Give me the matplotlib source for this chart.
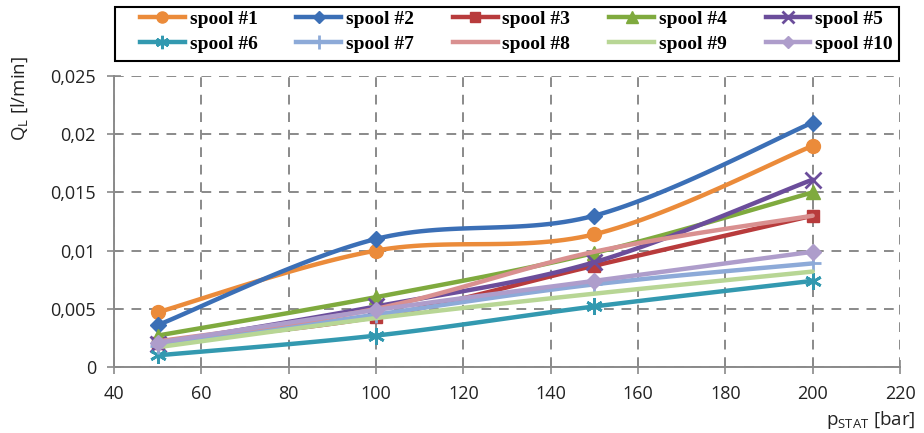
import numpy as np
import matplotlib
matplotlib.use("Agg")
import matplotlib.pyplot as plt
from matplotlib.ticker import FuncFormatter, MultipleLocator
from matplotlib.patches import Rectangle

# ---- data ----
pressure = [50, 100, 150, 200]
labels = ["spool #1", "spool #2", "spool #3", "spool #4", "spool #5",
          "spool #6", "spool #7", "spool #8", "spool #9", "spool #10"]
spool1 = [0.0047, 0.0100, 0.0114, 0.0190]
spool2 = [0.0036, 0.0110, 0.0130, 0.0210]
spool3 = [0.0021, 0.0043, 0.0087, 0.0130]
spool4 = [0.0027, 0.0060, 0.0098, 0.0150]
spool5 = [0.0020, 0.0052, 0.0090, 0.0161]
spool6 = [0.0010, 0.0027, 0.0052, 0.0074]
spool7 = [0.0018, 0.0045, 0.0071, 0.0089]
spool8 = [0.0022, 0.0050, 0.0099, 0.0130]
spool9 = [0.0017, 0.0042, 0.0063, 0.0082]
spool10 = [0.0021, 0.0049, 0.0074, 0.0099]
series = [spool1, spool2, spool3, spool4, spool5,
          spool6, spool7, spool8, spool9, spool10]

colors = ["#EB8B3A", "#3B6FB6", "#B83B3C", "#7FAA3E", "#6B4D9B",
          "#3399B0", "#8DAAD8", "#D99090", "#B8D695", "#AE9DCB"]
markers = ["o", "D", "s", "^", "x", (6, 2, 0), "+", None, None, "D"]
msizes = [10, 8, 9, 10, 11, 12, 12, 0, 0, 8]


def smooth(x, y, n=30):
    """Excel-like smoothed line (Catmull-Rom Bezier) through the points."""
    x = np.asarray(x, float)
    y = np.asarray(y, float)
    P = np.column_stack([x, y])
    m = len(P)
    out = []
    for i in range(m - 1):
        p0 = P[i - 1] if i > 0 else P[i]
        p1 = P[i]
        p2 = P[i + 1]
        p3 = P[i + 2] if i + 2 < m else P[i + 1]
        c1 = p1 + (p2 - p0) / 6.0
        c2 = p2 - (p3 - p1) / 6.0
        t = np.linspace(0, 1, n)[:, None]
        b = ((1 - t) ** 3) * p1 + 3 * ((1 - t) ** 2) * t * c1 + 3 * (1 - t) * t ** 2 * c2 + t ** 3 * p2
        if i > 0:
            b = b[1:]
        out.append(b)
    B = np.vstack(out)
    return B[:, 0], B[:, 1]


W, H = 924, 433
fig = plt.figure(figsize=(W / 100, H / 100), dpi=100)
ax = fig.add_axes([114 / W, 1 - 367 / H, (900 - 114) / W, (367 - 76) / H])

handles = []
for i, (vals, c, mk, ms, lab) in enumerate(zip(series, colors, markers, msizes, labels)):
    sx, sy = smooth(pressure, vals)
    ax.plot(sx, sy, color=c, lw=3.2, solid_capstyle="round", zorder=3 + i)
    mew = 2.0 if mk in ("x", "+") or isinstance(mk, tuple) else 1.0
    if mk is not None:
        ax.plot(pressure, vals, linestyle="none", marker=mk, markersize=ms,
                color=c, markeredgecolor=c, markeredgewidth=mew, zorder=3 + i)
    h, = ax.plot([], [], color=c, lw=3.2, marker=mk if mk is not None else None,
                 markersize=ms, markeredgecolor=c, markeredgewidth=mew)
    handles.append(h)

ax.set_xlim(40, 220)
ax.set_ylim(0, 0.025)
ax.xaxis.set_major_locator(MultipleLocator(20))
ax.yaxis.set_major_locator(MultipleLocator(0.005))


def yfmt(v, pos):
    if abs(v) < 1e-12:
        return "0"
    s = ("%.3f" % v).rstrip("0")
    return s.replace(".", ",")


ax.yaxis.set_major_formatter(FuncFormatter(yfmt))
ax.grid(True, color="#8a8a8a", linestyle=(0, (5, 4)), linewidth=1.4, zorder=0)
ax.set_axisbelow(True)
for s in ["top", "right"]:
    ax.spines[s].set_visible(False)
for s in ["left", "bottom"]:
    ax.spines[s].set_color("#8a8a8a")
    ax.spines[s].set_linewidth(1.4)
ax.tick_params(direction="inout", length=10, width=1.2, color="#8a8a8a",
               labelsize=13, labelcolor="#222222", pad=8, labelfontfamily="Open Sans")

fig.text(20 / W, 1 - 98 / H, "Q$_\\mathregular{L}$ [l/min]", rotation=90,
         ha="center", va="center", fontsize=13.5, family="Open Sans", color="#222222")
fig.text(915 / W, 1 - 420 / H, "p$_\\mathregular{STAT}$ [bar]",
         ha="right", va="center", fontsize=13.5, family="Open Sans", color="#222222")

# legend: row-major order in a 5-column layout
order = [0, 5, 1, 6, 2, 7, 3, 8, 4, 9]
leg = fig.legend(handles=[handles[k] for k in order], labels=[labels[k] for k in order],
                 ncol=5, loc="upper left", bbox_to_anchor=(140 / W, 1 - 10 / H),
                 frameon=False, handlelength=2.3, handletextpad=0.25, columnspacing=2.0,
                 borderaxespad=0, labelspacing=0.4, borderpad=0, markerscale=0.8,
                 prop={"family": "Liberation Serif", "weight": "bold", "size": 14})
fig.patches.append(Rectangle((115 / W, 1 - 61 / H), (899 - 115) / W, 54 / H,
                             transform=fig.transFigure, fill=False, edgecolor="black",
                             linewidth=1.5))

fig.savefig("out.png", dpi=100)
